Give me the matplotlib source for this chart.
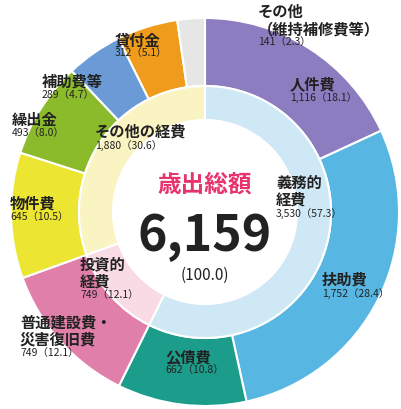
import matplotlib
matplotlib.use("Agg")
import matplotlib.pyplot as plt

plt.rcParams['font.family'] = ['Noto Sans CJK JP', 'DejaVu Sans']

outer_names = ['人件費', '扶助費', '公債費', '普通建設費・\n災害復旧費', '物件費', '繰出金', '補助費等', '貸付金', 'その他\n（維持補修費等）']
outer_vals = [1116, 1752, 662, 749, 645, 493, 289, 312, 141]
outer_pct = ['18.1', '28.4', '10.8', '12.1', '10.5', '8.0', '4.7', '5.1', '2.3']
outer_cols = ['#8c7cc0', '#58b7e2', '#1c9c8a', '#e07fa9', '#ece632', '#8bbb2b', '#6b9bd6', '#ef9b1b', '#e6e6e6']

inner_names = ['義務的\n経費', '投資的\n経費', 'その他の経費']
inner_vals = [3530, 749, 1880]
inner_pct = ['57.3', '12.1', '30.6']
inner_cols = ['#cfe8f6', '#f9dbe6', '#faf4c2']

fig = plt.figure(figsize=(4.01, 4.10), dpi=100)
ax = fig.add_axes([0, 0, 1, 1])
ax.axis('off')

c = (205, -213)
ax.pie(outer_vals, colors=outer_cols, startangle=90, counterclock=False, center=c,
       radius=194, wedgeprops=dict(width=68, edgecolor='white', linewidth=1.5))
ax.pie(inner_vals, colors=inner_cols, startangle=90, counterclock=False, center=c,
       radius=126, wedgeprops=dict(width=34, edgecolor='white', linewidth=1.5))
ax.add_patch(plt.Circle(c, 92, color='white'))
ax.set_xlim(0, 401)
ax.set_ylim(-410, 0)
ax.set_aspect('equal')

def lab(x, y, name, val, pct, ha='left', size=11):
    ax.text(x, -y, name, ha=ha, va='bottom', fontsize=size, color='#222222',
            linespacing=1.1, fontweight='bold')
    ax.text(x, -y, f'{val:,}（{pct}）', ha=ha, va='top', fontsize=7.5, color='#222222')

pos = [(290, 92, 'left'), (322, 288, 'left'), (165, 365, 'left'), (20, 348, 'left'),
       (10, 212, 'left'), (12, 128, 'left'), (42, 90, 'left'), (115, 48, 'left'), (258, 37, 'left')]
for (x, y, ha), n, v, p in zip(pos, outer_names, outer_vals, outer_pct):
    lab(x, y, n, v, p, ha)

ipos = [(276, 208), (80, 290), (95, 140)]
for (x, y), n, v, p in zip(ipos, inner_names, inner_vals, inner_pct):
    lab(x, y, n, v, p)

ax.text(205, -185, '歳出総額', ha='center', va='center', fontsize=17, color='#e8336d', fontweight='bold')
ax.text(205, -236, '6,159', ha='center', va='center', fontsize=36, color='#222222', fontweight='bold')
ax.text(205, -275, '(100.0)', ha='center', va='center', fontsize=11, color='#222222')

fig.savefig('out.png', dpi=100)
